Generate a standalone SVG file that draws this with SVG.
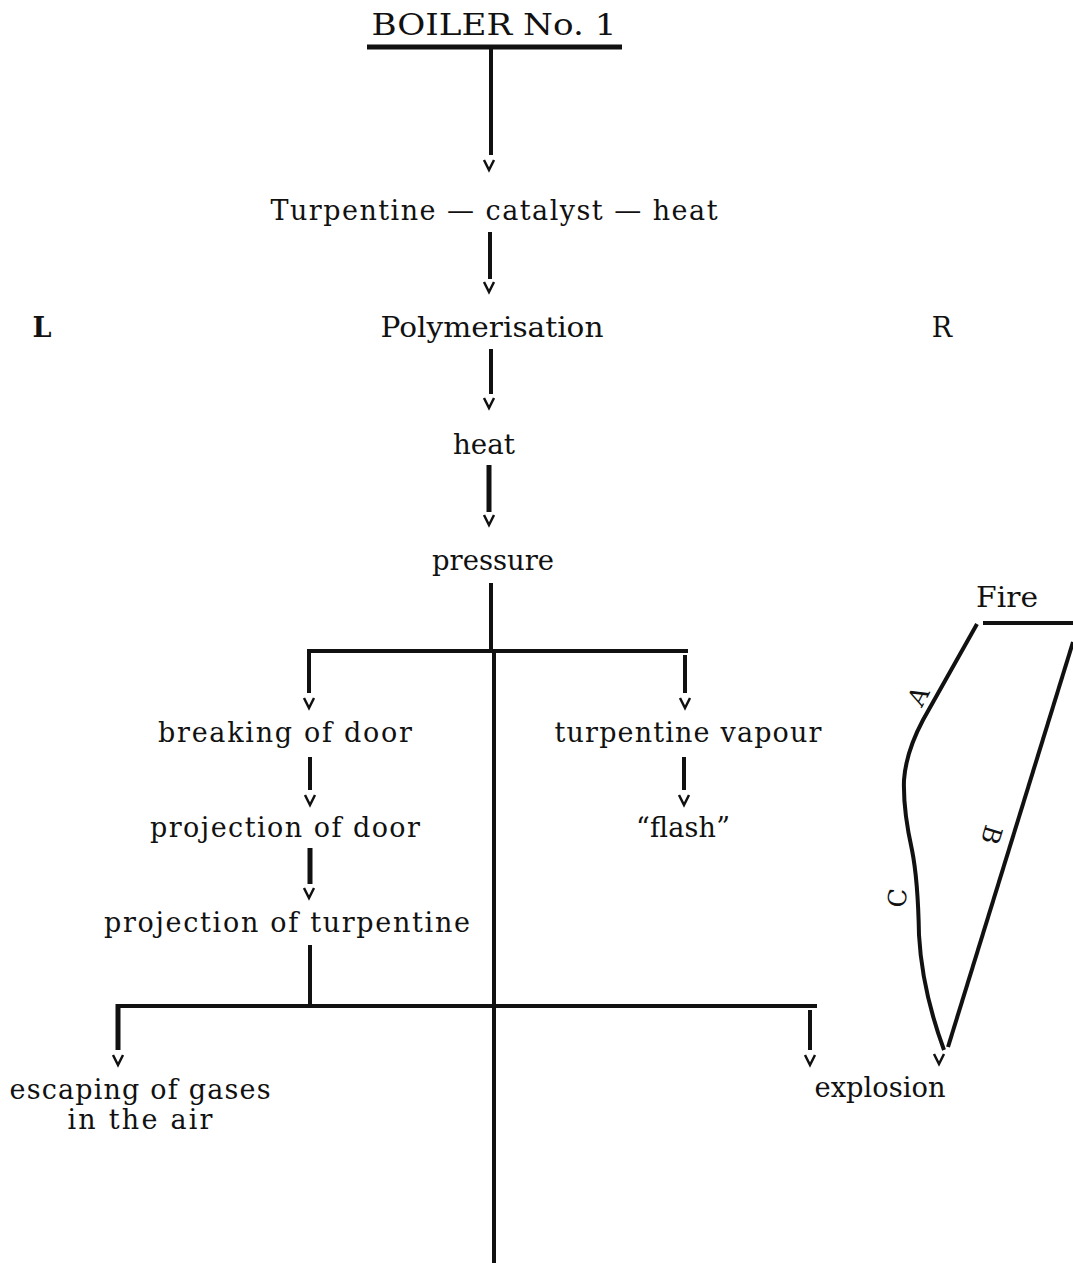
<svg xmlns="http://www.w3.org/2000/svg" width="1073" height="1263" viewBox="0 0 1073 1263">
<style>
text{font-family:"DejaVu Serif","Liberation Serif",serif;font-size:27px;fill:#111;text-anchor:middle}
.ln{stroke:#111;stroke-width:4;fill:none;stroke-linecap:butt}
.hv{stroke-width:5}
.ar{stroke:#111;stroke-width:2.5;fill:none;stroke-linejoin:miter}
.lab{font-size:25px}
</style>
<defs>
<path id="v" class="ar" d="M-5,-5 L0,5 L5,-5"/>
</defs>
<rect width="1073" height="1263" fill="#fff"/>
<g id="title"><text x="494" y="35" style="font-size:29px" textLength="245" lengthAdjust="spacingAndGlyphs">BOILER No. 1</text></g>
<g id="n1"><text x="494" y="220" textLength="447" lengthAdjust="spacing">Turpentine — catalyst — heat</text></g>
<g id="L"><text x="42" y="337" style="font-weight:bold">L</text></g>
<g id="n2"><text x="492" y="337" textLength="223" lengthAdjust="spacingAndGlyphs">Polymerisation</text></g>
<g id="R"><text x="942" y="337">R</text></g>
<g id="n3"><text x="484" y="454" textLength="62" lengthAdjust="spacingAndGlyphs">heat</text></g>
<g id="n4"><text x="493" y="570" textLength="122" lengthAdjust="spacingAndGlyphs">pressure</text></g>
<g id="n5"><text x="285" y="742" textLength="254" lengthAdjust="spacing">breaking of door</text></g>
<g id="n6"><text x="688" y="742" textLength="267" lengthAdjust="spacing">turpentine vapour</text></g>
<g id="n7"><text x="285" y="837" textLength="270" lengthAdjust="spacing">projection of door</text></g>
<g id="n8"><text x="683" y="837" textLength="94" lengthAdjust="spacing">“flash”</text></g>
<g id="n9"><text x="287" y="932" textLength="366" lengthAdjust="spacing">projection of turpentine</text></g>
<g id="n10"><text x="140" y="1099" textLength="261" lengthAdjust="spacing">escaping of gases</text><text x="140" y="1129" textLength="145" lengthAdjust="spacing">in the air</text></g>
<g id="n11"><text x="880" y="1097" textLength="131" lengthAdjust="spacingAndGlyphs">explosion</text></g>
<g id="fire"><text x="1007" y="607" textLength="62" lengthAdjust="spacingAndGlyphs">Fire</text></g>
<g id="connectors">
<line class="ln hv" x1="367" y1="47" x2="622" y2="47"/>
<line class="ln" x1="491" y1="47" x2="491" y2="155"/>
<use href="#v" x="489" y="165"/>
<line class="ln" x1="490" y1="232" x2="490" y2="279"/>
<use href="#v" x="489" y="287"/>
<line class="ln" x1="491" y1="349" x2="491" y2="394"/>
<use href="#v" x="489" y="403"/>
<line class="ln hv" x1="489" y1="465" x2="489" y2="512"/>
<use href="#v" x="489" y="520"/>
<line class="ln" x1="491" y1="583" x2="491" y2="651"/>
<line class="ln" x1="307" y1="651" x2="688" y2="651"/>
<line class="ln" x1="494" y1="653" x2="494" y2="1263"/>
<line class="ln" x1="309" y1="649" x2="309" y2="693"/>
<use href="#v" x="309" y="703"/>
<line class="ln" x1="685" y1="655" x2="685" y2="693"/>
<use href="#v" x="685" y="703"/>
<line class="ln" x1="310" y1="757" x2="310" y2="790"/>
<use href="#v" x="310" y="800"/>
<line class="ln" x1="684" y1="757" x2="684" y2="790"/>
<use href="#v" x="684" y="800"/>
<line class="ln hv" x1="310" y1="848" x2="310" y2="884"/>
<use href="#v" x="309" y="893"/>
<line class="ln" x1="310" y1="945" x2="310" y2="1004"/>
<line class="ln" x1="116" y1="1006" x2="817" y2="1006"/>
<line class="ln hv" x1="118" y1="1004" x2="118" y2="1050"/>
<use href="#v" x="118" y="1060"/>
<line class="ln" x1="810" y1="1010" x2="810" y2="1050"/>
<use href="#v" x="810" y="1060"/>
<line class="ln" x1="983" y1="623" x2="1073" y2="623"/>
<path class="ln" d="M977,624 L923,720 Q906,752 904,780 Q903,810 912,850 Q918,880 919,935 Q922,990 944,1050"/>
<line class="ln" x1="1073" y1="642" x2="948" y2="1047"/>
<use href="#v" x="939" y="1059"/>
</g>
<g id="edge-labels">
<text class="lab" transform="translate(918,696) rotate(-62)" dy="9">A</text>
<text class="lab" transform="translate(992,835) rotate(107)" dy="9">B</text>
<text class="lab" transform="translate(897,898) rotate(-85)" dy="9">C</text>
</g>
</svg>
